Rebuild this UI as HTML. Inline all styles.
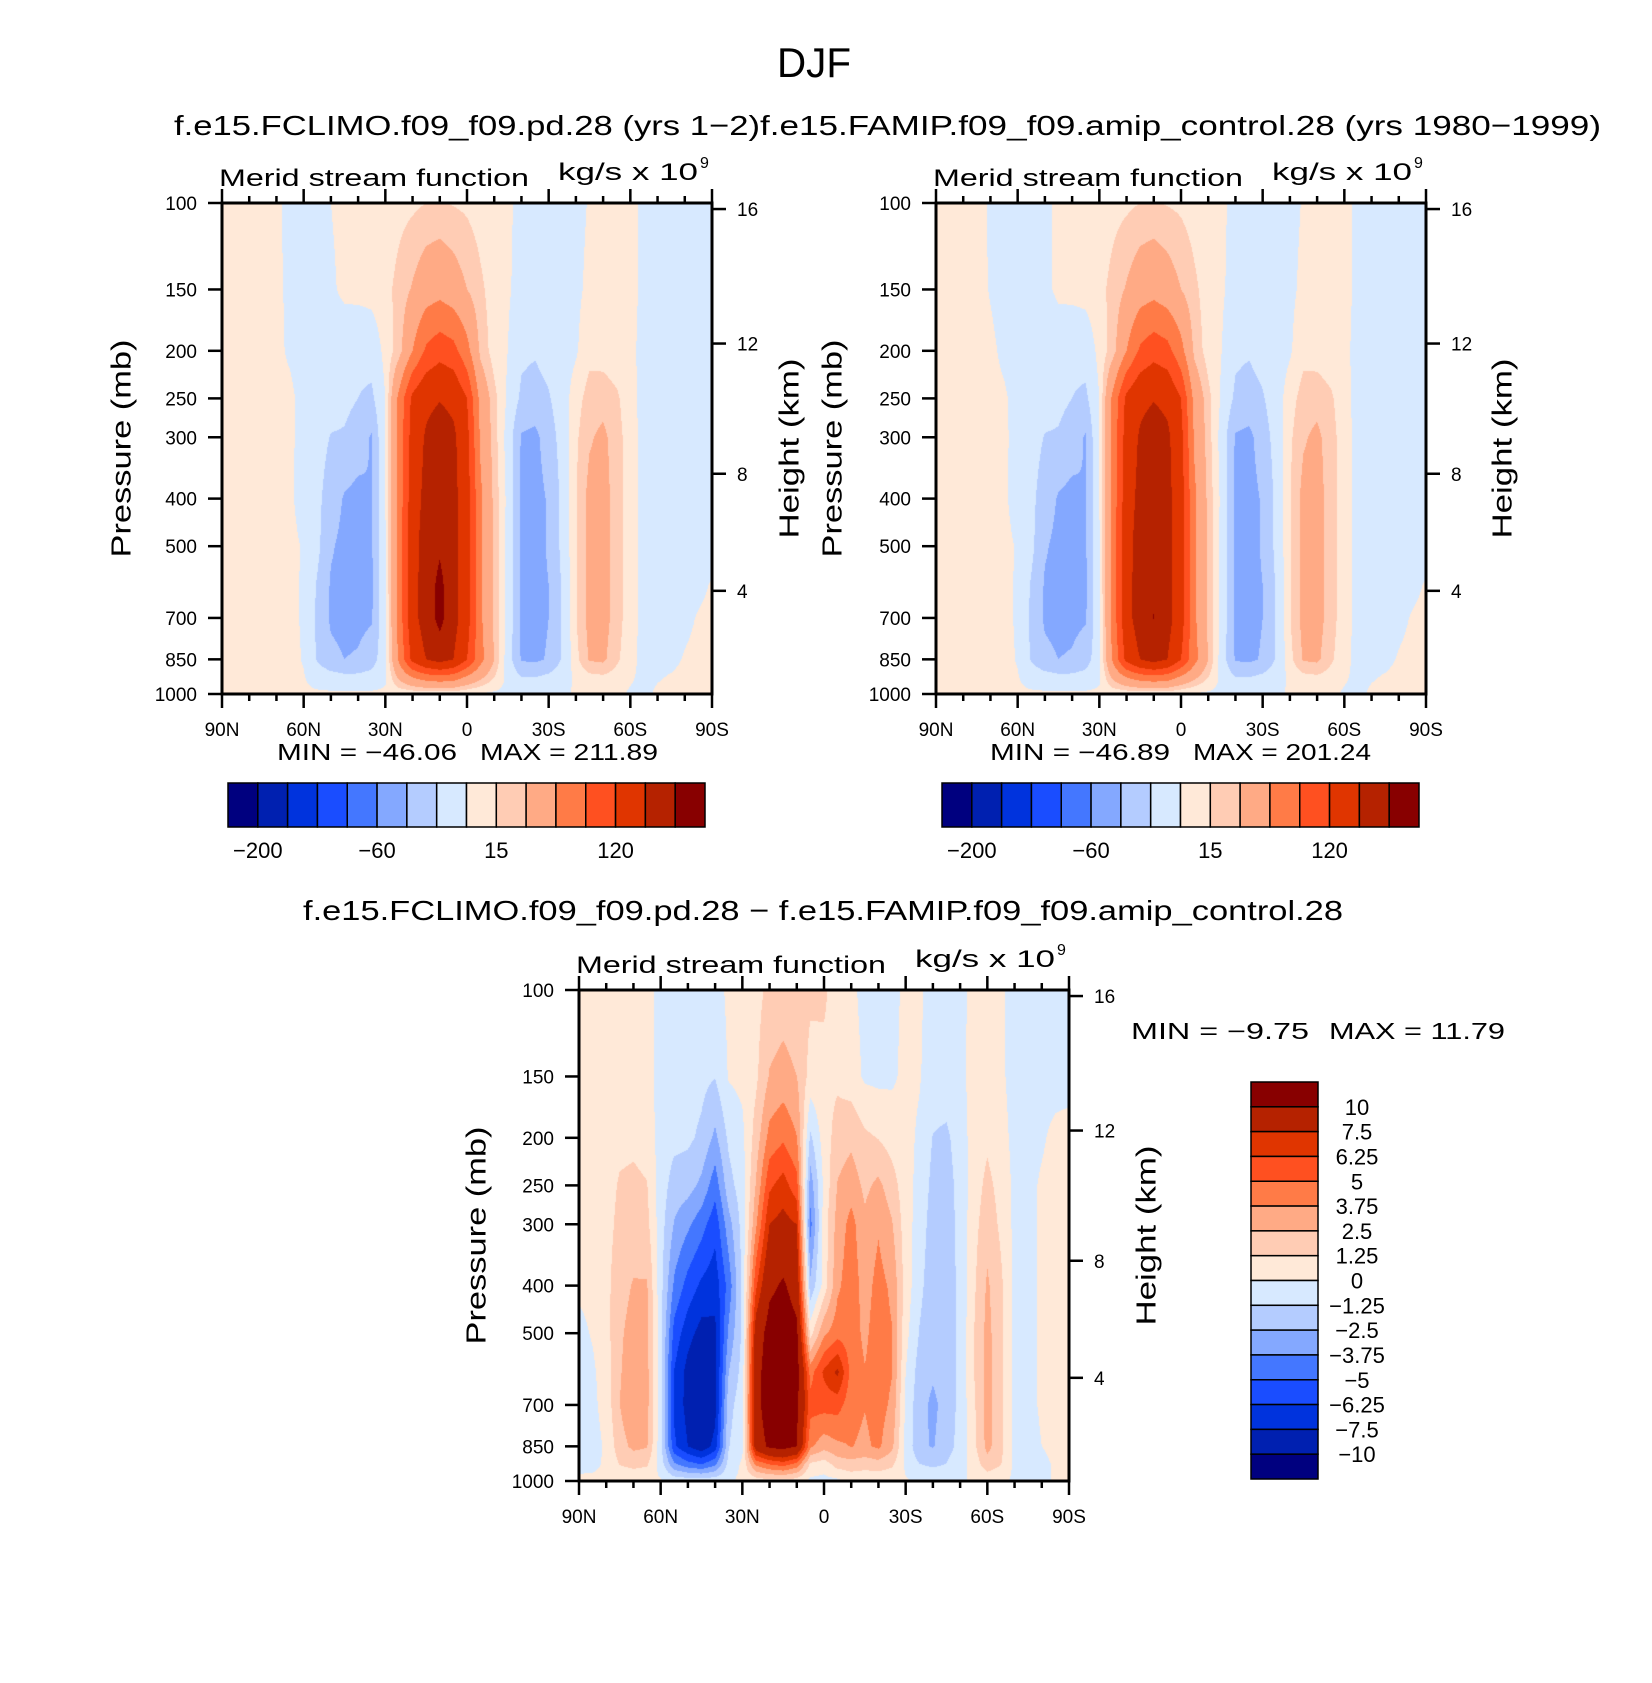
<!DOCTYPE html>
<html><head><meta charset="utf-8">
<style>
html,body{margin:0;padding:0;background:#fff;width:1652px;height:1683px;overflow:hidden}
#root{position:relative;width:1652px;height:1683px;background:#fff}
canvas{position:absolute}
svg{position:absolute;left:0;top:0}
text{font-family:"Liberation Sans",sans-serif;fill:#000}
</style></head>
<body>
<div id="root">
<canvas id="c1" width="490" height="491" style="left:222px;top:203px"></canvas>
<canvas id="c2" width="490" height="491" style="left:936px;top:203px"></canvas>
<canvas id="c3" width="490" height="491" style="left:579px;top:990px"></canvas>
<svg id="ov" width="1652" height="1683">
<text x="814" y="77" font-size="42" text-anchor="middle" textLength="74" lengthAdjust="spacingAndGlyphs">DJF</text>
<text x="174" y="135" font-size="28" textLength="586" lengthAdjust="spacingAndGlyphs">f.e15.FCLIMO.f09_f09.pd.28 (yrs 1−2)</text>
<text x="760" y="135" font-size="28" textLength="841" lengthAdjust="spacingAndGlyphs">f.e15.FAMIP.f09_f09.amip_control.28 (yrs 1980−1999)</text>
<text x="303" y="920" font-size="28" textLength="1040" lengthAdjust="spacingAndGlyphs">f.e15.FCLIMO.f09_f09.pd.28 − f.e15.FAMIP.f09_f09.amip_control.28</text>
</svg>
</div>
<script>
// ---------------- data ----------------
const lats = [90,85,80,75,70,65,60,55,50,45,40,35,30,25,20,15,10,5,0,-5,-10,-15,-20,-25,-30,-35,-40,-45,-50,-55,-60,-65,-70,-75,-80,-85,-90];
const pressureLevels = [100,150,200,250,300,400,500,600,700,850,925,1000];
const pressureTicks = [100,150,200,250,300,400,500,700,850,1000];
const latTicks = [90,60,30,0,-30,-60,-90];
const latTickLabels = ['90N','60N','30N','0','30S','60S','90S'];
const heightTicks = [16,12,8,4];
const topLevels = [-200,-160,-120,-80,-60,-40,-20,0,15,30,60,90,120,160,200];
const topBarLabels = ['−200','−60','15','120'];
const topBarLabelIdx = [0,4,8,12];
const diffLevels = [-10,-7.5,-6.25,-5,-3.75,-2.5,-1.25,0,1.25,2.5,3.75,5,6.25,7.5,10];
const diffBarLabels = ['−10','−7.5','−6.25','−5','−3.75','−2.5','−1.25','0','1.25','2.5','3.75','5','6.25','7.5','10'];
const p1Stats = ['MIN = −46.06', 'MAX = 211.89'];
const p2Stats = ['MIN = −46.89', 'MAX = 201.24'];
const p3Stats = ['MIN =  −9.75', 'MAX =  11.79'];
// columns: one per latitude, values at pressureLevels (10^9 kg/s)
const p1Values = [
[5,5,5,5,5,5,5,5,5,5,4,3],[5,5,5,5,5,5,5,5,5,5,4,3],[5,5,5,5,5,5,5,5,5,5,4,3],[5,5,5,5,5,5,5,5,5,5,4,3],
[4,3,3,4,4,4,4,4,4,4,3,3],
[-6,-3,-2,3,3,2,3,3,3,4,3,3],
[-8,-8,-8,-5,-6,-5,-1,-1.5,-1.5,-1,1,3],
[-6,-8,-10,-10,-12,-15,-15,-22,-24,-22,-8,3],
[0,-3,-12,-12,-21,-30,-38,-42,-43,-35,-12,3],
[5,4,-13,-15,-22,-42,-45,-46,-46,-40,-15,3],
[5,5,-15,-20,-30,-46,-46,-46,-45,-38,-15,3],
[5,6,-12,-24,-42,-40,-42,-43,-42,-30,-12,3],
[6,10,5,0,2,0,-2,-2,-3,-5,-3,3],
[10,20,22,68,70,72,72,72,72,65,35,3],
[12,32,60,128,135,140,145,145,145,130,60,3],
[15,45,95,150,165,172,178,180,180,160,75,3],
[16,50,108,158,180,185,195,210,212,175,80,3],
[14,42,100,150,168,172,175,175,175,160,75,3],
[12,30,70,120,130,135,135,135,135,120,55,0],
[8,18,25,50,55,65,65,65,65,70,35,-2],
[5,8,8,20,22,25,25,25,25,30,15,-3],
[3,2,0,-3,-8,-5,-6,-6,-6,-10,-5,-3],
[-5,-6,-16,-24,-42,-45,-45,-45,-45,-42,-20,-3],
[-6,-8,-18,-28,-45,-47,-47,-47,-47,-44,-20,-3],
[-6,-8,-12,-22,-30,-38,-38,-40,-40,-38,-15,-3],
[-6,-7,-8,-8,-12,-15,-15,-18,-18,-18,-8,-3],
[-4,-3,-2,8,12,14,14,14,14,10,3,2],
[1,3,10,22,28,36,36,36,36,32,10,3],
[4,4,8,24,34,38,38,38,38,34,12,3],
[5,5,4,18,22,22,22,22,22,18,8,3],
[6,5,3,4,6,6,6,6,6,5,2,-2],
[-4,-4,-4,-4,-5,-5,-5,-5,-5,-5,-4,-3],
[-6,-6,-6,-6,-6,-6,-6,-6,-6,-4,-1,2],
[-6,-6,-6,-6,-6,-6,-6,-6,-6,-3,1,3],
[-6,-6,-6,-6,-6,-6,-6,-6,-3,1,3,3],
[-6,-6,-6,-6,-6,-6,-6,-3,1,3,3,3],
[-6,-6,-6,-6,-6,-6,-4,1,3,3,3,3]
];
const p2Values = [
[5,5,5,5,5,5,5,5,5,5,4,3],[5,5,5,5,5,5,5,5,5,5,4,3],[5,5,5,5,5,5,5,5,5,5,4,3],[5,5,5,5,5,5,5,5,5,5,4,3],
[-2,-1,3,4,4,4,4,4,4,4,3,3],
[-7,-6,-3,2,3,2,3,3,3,4,3,3],
[-8,-8,-8,-5,-6,-5,-1,-1.5,-1.5,-1,1,3],
[-6,-8,-10,-10,-12,-15,-15,-22,-24,-22,-8,3],
[-3,-5,-12,-12,-21,-30,-38,-42,-43,-35,-12,3],
[3,4,-13,-15,-22,-42,-45,-46,-46,-40,-15,3],
[5,5,-15,-20,-30,-46,-46,-47,-45,-38,-15,3],
[5,6,-12,-24,-42,-40,-42,-43,-42,-30,-12,3],
[6,10,5,0,2,0,-2,-2,-3,-5,-3,3],
[10,20,22,68,70,72,72,72,72,65,35,3],
[12,32,60,128,135,140,145,145,145,130,60,3],
[15,45,95,150,165,172,178,180,180,160,75,3],
[16,50,108,158,180,185,192,196,201,175,80,3],
[14,42,100,150,168,172,175,175,175,160,75,3],
[12,30,70,120,130,135,135,135,135,120,55,0],
[8,18,25,50,55,65,65,65,65,70,35,-2],
[5,8,8,20,22,25,25,25,25,30,15,-3],
[3,2,0,-3,-8,-5,-6,-6,-6,-10,-5,-3],
[-5,-6,-16,-24,-42,-45,-45,-45,-45,-42,-20,-3],
[-6,-8,-18,-28,-45,-47,-47,-47,-47,-44,-20,-3],
[-6,-8,-12,-22,-30,-38,-38,-40,-40,-38,-15,-3],
[-6,-7,-8,-8,-12,-15,-15,-18,-18,-18,-8,-3],
[-4,-3,-2,8,12,14,14,14,14,10,3,2],
[1,3,10,22,28,36,36,36,36,32,10,3],
[4,4,8,24,34,38,38,38,38,34,12,3],
[5,5,4,18,22,22,22,22,22,18,8,3],
[6,5,3,4,6,6,6,6,6,5,2,-2],
[-4,-4,-4,-4,-5,-5,-5,-5,-5,-5,-4,-3],
[-6,-6,-6,-6,-6,-6,-6,-6,-6,-4,-1,2],
[-6,-6,-6,-6,-6,-6,-6,-6,-6,-3,1,3],
[-6,-6,-6,-6,-6,-6,-6,-6,-3,1,3,3],
[-6,-6,-6,-6,-6,-6,-6,-3,1,3,3,3],
[-6,-6,-6,-6,-6,-6,-4,1,3,3,3,3]
];
const diffValues = [
[0.5,0.5,0.5,0.4,0.3,0.2,-0.3,-0.5,-0.5,-0.5,-0.4,0.3],
[0.5,0.5,0.5,0.5,0.4,0.3,0.1,-0.2,-0.3,-0.5,-0.3,0.3],
[0.6,0.6,0.6,0.7,0.8,0.9,0.8,0.6,0.5,0.2,0.2,0.3],
[0.5,0.6,0.9,1.4,1.6,2.0,2.3,2.4,2.5,2.0,1.3,0.3],
[0.6,0.7,1.0,1.5,1.8,2.6,3.0,3.2,3.6,2.8,1.6,0.3],
[0.5,0.5,0.8,1.3,1.6,2.6,2.8,2.9,2.9,2.6,1.4,0.3],
[-0.5,-0.5,-0.6,-0.6,-0.7,-0.8,-0.8,-0.8,-0.8,-0.8,-0.6,0.1],
[-0.5,-0.6,-0.9,-1.8,-2.6,-4.0,-5.5,-6.3,-6.5,-6.0,-3.5,-0.4],
[-0.6,-0.7,-1.0,-2.0,-3.5,-5.5,-7.0,-8.0,-8.0,-7.5,-4.5,-0.5],
[-0.7,-0.9,-1.5,-2.8,-4.5,-6.5,-8.0,-9.2,-9.75,-8.5,-5.0,-0.5],
[-0.6,-1.2,-2.8,-4.5,-5.8,-7.0,-7.8,-8.0,-8.0,-7.0,-4.0,-0.4],
[0.3,0.1,-1.0,-1.7,-3.0,-4.5,-3.5,-2.5,-1.7,-1.3,-0.8,-0.2],
[0.4,0.3,-0.3,-0.6,-0.8,-1.0,-1.0,-0.8,-0.5,-0.3,0.2,0.3],
[0.8,1.0,1.8,2.6,3.5,6.0,8.5,9.0,9.0,8.5,4.0,0.5],
[1.6,2.6,4.2,6.0,7.5,9.5,11.0,11.5,11.7,10.5,5.0,0.8],
[1.8,3.0,4.8,6.8,8.0,10.3,11.5,11.79,11.5,10.8,5.5,0.8],
[1.6,2.5,3.8,5.5,7.5,9.0,10.5,11.0,10.5,10.0,4.5,0.6],
[1.5,0.8,-1.5,-3.2,-4.2,-2.2,0.8,4.5,5.5,4.0,1.0,-0.3],
[1.4,1.0,0.6,0.3,0.6,0.5,3.5,6.5,5.5,3.0,0.6,-0.4],
[0.8,1.0,1.8,2.6,3.0,3.5,4.5,7.8,5.5,3.5,1.8,-0.3],
[0.3,0.6,2.2,3.2,4.2,4.5,4.3,4.5,4.2,3.8,2.0,0.3],
[-0.4,-0.2,1.5,2.2,2.8,3.2,3.5,3.8,3.8,3.5,1.8,0.2],
[-0.5,-0.3,1.2,2.8,3.6,4.2,4.4,4.4,4.3,4.0,2.0,0.2],
[-0.4,-0.2,0.7,1.8,2.6,3.5,3.8,3.8,3.5,2.8,1.5,0.2],
[0.3,0.3,0.4,0.5,0.6,0.7,0.4,0.0,-0.3,-0.3,-0.2,0.1],
[0.2,0.1,-0.2,-0.4,-0.6,-0.9,-1.3,-1.8,-2.0,-2.2,-1.2,-0.1],
[-0.5,-0.6,-1.3,-1.6,-1.8,-2.0,-2.2,-2.3,-2.8,-2.6,-1.5,-0.2],
[-0.5,-0.5,-1.5,-1.8,-1.8,-1.8,-1.9,-1.9,-2.0,-1.8,-1.2,-0.2],
[-0.3,-0.3,-0.6,-0.8,-0.9,-1.0,-1.0,-1.0,-0.9,-0.8,-0.5,-0.1],
[0.3,0.4,0.5,0.6,0.8,1.0,1.2,1.2,1.0,0.9,0.5,0.1],
[0.4,0.6,1.0,1.6,2.0,2.7,2.9,3.0,3.0,2.9,2.0,0.3],
[0.2,0.2,0.4,0.8,1.0,1.5,1.6,1.6,1.6,1.6,1.3,0.2],
[-0.4,-0.4,-0.3,-0.3,-0.3,-0.3,-0.3,-0.3,-0.3,-0.3,-0.3,-0.2],
[-0.4,-0.4,-0.3,-0.2,-0.2,-0.2,-0.2,-0.2,-0.2,-0.3,-0.3,-0.2],
[-0.4,-0.3,-0.1,0.1,0.1,0.1,0.1,0.1,0.1,0.0,-0.2,-0.2],
[-0.4,-0.3,0.2,0.3,0.3,0.3,0.3,0.3,0.2,0.2,0.1,0.1],
[-0.4,-0.3,0.3,0.3,0.3,0.3,0.3,0.3,0.3,0.3,0.2,0.1]
];
const palette = ['#00007f','#0020b0','#0033dd','#1a4dff','#4477ff','#84a8ff','#b4ccff','#d7e9ff','#ffe9d8','#ffccb4','#ffaa85','#ff7b47','#ff5020','#e03500','#b52200','#880000'];

// ---------------- helpers ----------------
const NS = 'http://www.w3.org/2000/svg';
const ov = document.getElementById('ov');
function el(tag, attrs, txt){
  const e = document.createElementNS(NS, tag);
  for (const k in attrs) e.setAttribute(k, attrs[k]);
  if (txt !== undefined) e.textContent = txt;
  ov.appendChild(e);
  return e;
}
function stdPressure(zkm){
  const z = zkm*1000;
  if (z <= 11000) return 1013.25*Math.pow(1-2.25577e-5*z, 5.25588);
  return 226.32*Math.exp(-(z-11000)/6341.6);
}
const rgb = palette.map(h => [parseInt(h.slice(1,3),16), parseInt(h.slice(3,5),16), parseInt(h.slice(5,7),16)]);

function renderField(cv, vals, levels){
  const w = cv.width, h = cv.height, ctx = cv.getContext('2d');
  const img = ctx.createImageData(w, h);
  const nL = lats.length, logP = pressureLevels.map(Math.log10);
  const latSpan = lats[0] - lats[nL-1];
  for (let py = 0; py < h; py++){
    const lp = 2 + (py+0.5)/h;
    let k = 0; while (k < logP.length-2 && lp > logP[k+1]) k++;
    let t = (lp - logP[k])/(logP[k+1]-logP[k]); t = Math.max(0, Math.min(1, t));
    for (let px = 0; px < w; px++){
      const lat = lats[0] - latSpan*(px+0.5)/w;
      let u = (lats[0]-lat)/latSpan*(nL-1);
      let i = Math.min(Math.floor(u), nL-2); const s = u - i;
      const a = vals[i], b = vals[i+1];
      const v = (1-s)*((1-t)*a[k]+t*a[k+1]) + s*((1-t)*b[k]+t*b[k+1]);
      let ci = 0; while (ci < levels.length && v >= levels[ci]) ci++;
      const c = rgb[ci], o = (py*w+px)*4;
      img.data[o]=c[0]; img.data[o+1]=c[1]; img.data[o+2]=c[2]; img.data[o+3]=255;
    }
  }
  ctx.putImageData(img, 0, 0);
}

function drawAxes(P, tag){
  const x0 = P.x, y0 = P.y, w = P.w, h = P.h;
  const xOf = lat => x0 + (90-lat)/180*w;
  const yOf = p => y0 + h*Math.log10(p/100);
  let e;
  e = el('rect', {x:x0, y:y0, width:w, height:h, fill:'none', stroke:'#000', 'stroke-width':3});
  
  
  for (const p of pressureTicks){
    e = el('line', {x1:x0-14, x2:x0, y1:yOf(p), y2:yOf(p), stroke:'#000', 'stroke-width':2.5});
    
    
    e = el('text', {x:x0-25, y:yOf(p)+7, 'font-size':19, 'text-anchor':'end'}, String(p));
    
    
  }
  for (let lat = 90; lat >= -90; lat -= 10){
    const major = (lat % 30 === 0);
    const L = major ? 14 : 7;
    e = el('line', {x1:xOf(lat), x2:xOf(lat), y1:y0+h, y2:y0+h+L, stroke:'#000', 'stroke-width':2.5});
    
    
    e = el('line', {x1:xOf(lat), x2:xOf(lat), y1:y0, y2:y0-L, stroke:'#000', 'stroke-width':2.5});
    
    
  }
  latTicks.forEach((lat, i) => {
    const t = el('text', {x:xOf(lat), y:y0+h+42, 'font-size':19, 'text-anchor':'middle'}, latTickLabels[i]);
    
    
  });
  for (const z of heightTicks){
    const yy = yOf(stdPressure(z));
    e = el('line', {x1:x0+w, x2:x0+w+14, y1:yy, y2:yy, stroke:'#000', 'stroke-width':2.5});
    
    
    e = el('text', {x:x0+w+25, y:yy+7, 'font-size':19}, String(z));
    
    
  }
  const cy = y0 + h/2;
  e = el('text', {x:P.plx, y:cy, 'font-size':28, 'text-anchor':'middle', 'dominant-baseline':'central', transform:'rotate(-90 '+P.plx+' '+cy+')', textLength:218, lengthAdjust:'spacingAndGlyphs'}, 'Pressure (mb)');
  
  
  e = el('text', {x:P.hlx, y:cy, 'font-size':28, 'text-anchor':'middle', 'dominant-baseline':'central', transform:'rotate(-90 '+P.hlx+' '+cy+')', textLength:180, lengthAdjust:'spacingAndGlyphs'}, 'Height (km)');
  
  
  e = el('text', {x:x0-3, y:y0-17, 'font-size':24, textLength:310, lengthAdjust:'spacingAndGlyphs'}, 'Merid stream function');
  
  
  e = el('text', {x:x0+336, y:y0-23, 'font-size':24, textLength:140, lengthAdjust:'spacingAndGlyphs'}, 'kg/s x 10');
  
  
  e = el('text', {x:x0+478, y:y0-35, 'font-size':16}, '9');
  
  
}

function drawHBar(bx, by, bw, bh, tag){
  const n = palette.length, cw = bw/n;
  for (let i = 0; i < n; i++){
    const r = el('rect', {x:bx+i*cw, y:by, width:cw, height:bh, fill:palette[i], stroke:'#000', 'stroke-width':1.5});
    
    
  }
  topBarLabels.forEach((lab, j) => {
    const t = el('text', {x:bx+(topBarLabelIdx[j]+1)*cw, y:by+bh+31, 'font-size':22, 'text-anchor':'middle'}, lab);
    
    
  });
}

function drawStats(x, y, stats, tag, gap, l1, l2){
  let t = el('text', {x:x, y:y, 'font-size':23, textLength:l1, lengthAdjust:'spacingAndGlyphs'}, stats[0]);
  
  
  t = el('text', {x:x+gap, y:y, 'font-size':23, textLength:l2, lengthAdjust:'spacingAndGlyphs'}, stats[1]);
  
  
}

// ---------------- panels ----------------
const panels = [
  {cv:'c1', vals:p1Values, levels:topLevels, x:222, y:203, w:490, h:491, plx:121, hlx:789, tag:'fclimo'},
  {cv:'c2', vals:p2Values, levels:topLevels, x:936, y:203, w:490, h:491, plx:832, hlx:1502, tag:'famip'},
  {cv:'c3', vals:diffValues, levels:diffLevels, x:579, y:990, w:490, h:491, plx:476, hlx:1146, tag:'difference'}
];
panels.forEach(P => {
  renderField(document.getElementById(P.cv), P.vals, P.levels);
  drawAxes(P, P.tag);
});

drawHBar(228, 783, 477, 44, 'fclimo');
drawHBar(942, 783, 477, 44, 'famip');
drawStats(277, 760, p1Stats, 'fclimo', 203, 180, 178);
drawStats(990, 760, p2Stats, 'famip', 203, 180, 178);
drawStats(1131, 1039, p3Stats, 'difference', 198, 178, 176);

// vertical labelbar for the difference panel (top = highest)
(function(){
  const bx = 1251, by = 1082, bw = 67, bh = 397, n = palette.length, ch = bh/n;
  for (let i = 0; i < n; i++){
    const r = el('rect', {x:bx, y:by+i*ch, width:bw, height:ch, fill:palette[n-1-i], stroke:'#000', 'stroke-width':1.5});
    
    
  }
  for (let j = 0; j < diffBarLabels.length; j++){
    const lab = diffBarLabels[diffBarLabels.length-1-j];
    const t = el('text', {x:1357, y:by+(j+1)*ch+8, 'font-size':22, 'text-anchor':'middle'}, lab);
    
    
  }
})();
</script>
</body></html>
